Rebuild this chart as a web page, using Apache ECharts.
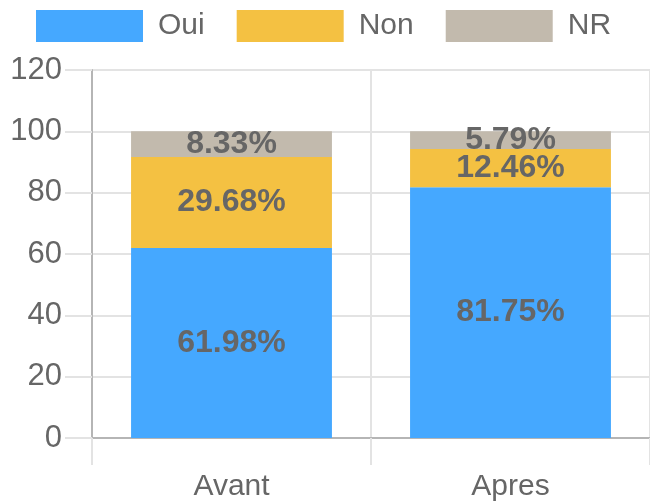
<!DOCTYPE html>
<html>
<head>
<meta charset="utf-8">
<script src="https://cdn.jsdelivr.net/npm/echarts@6/dist/echarts.min.js"></script>
<style>html,body{margin:0;padding:0;background:#fff}#c{width:650px;height:504px}</style>
</head>
<body>
<div id="c"></div>
<script>
var categories = ['Avant', 'Apres'];
var seriesNames = ['Oui', 'Non', 'NR'];
var ouiValues = [61.98, 81.75];
var nonValues = [29.68, 12.46];
var nrValues = [8.33, 5.79];
var yTicks = [0, 20, 40, 60, 80, 100, 120];

var FONT = 'Liberation Sans, Arial, sans-serif';
var colors = ['#45a8ff', '#f4c142', '#c2baad'];
var chart = echarts.init(document.getElementById('c'), null, {renderer: 'canvas'});

function mk(name, data, color) {
  return {
    name: name, type: 'bar', stack: 'total', data: data, barWidth: '72%',
    itemStyle: {color: color},
    label: {show: true, position: 'inside', formatter: '{c}%', color: '#666',
      fontFamily: FONT, fontWeight: 'bold', fontSize: 32},
    emphasis: {disabled: true}
  };
}

chart.setOption({
  animation: false,
  textStyle: {fontFamily: FONT},
  legend: {
    left: 31, top: 5, itemWidth: 107, itemHeight: 32, itemGap: 32,
    icon: 'rect',
    data: seriesNames,
    textStyle: {fontSize: 30, color: '#666', fontFamily: FONT, padding: [0, 0, 0, 10]}
  },
  grid: {left: 92, right: 0, top: 70, bottom: 66, containLabel: false},
  xAxis: {
    type: 'category', data: categories,
    axisLine: {lineStyle: {color: '#b5b5b5', width: 2}},
    axisTick: {show: true, length: 27, lineStyle: {color: '#e3e3e3', width: 2}},
    splitLine: {show: true, lineStyle: {color: '#e3e3e3', width: 2}},
    axisLabel: {fontSize: 30, color: '#666', fontFamily: FONT, margin: 34}
  },
  yAxis: {
    type: 'value', min: yTicks[0], max: yTicks[yTicks.length - 1], interval: 20,
    axisLine: {show: true, lineStyle: {color: '#b5b5b5', width: 2}},
    axisTick: {show: true, length: 27, lineStyle: {color: '#e3e3e3', width: 2}},
    splitLine: {show: true, lineStyle: {color: '#e3e3e3', width: 2}},
    axisLabel: {fontSize: 31, color: '#666', fontFamily: FONT, margin: 30}
  },
  series: [
    mk(seriesNames[0], ouiValues, colors[0]),
    mk(seriesNames[1], nonValues, colors[1]),
    mk(seriesNames[2], nrValues, colors[2])
  ]
});
</script>
</body>
</html>
